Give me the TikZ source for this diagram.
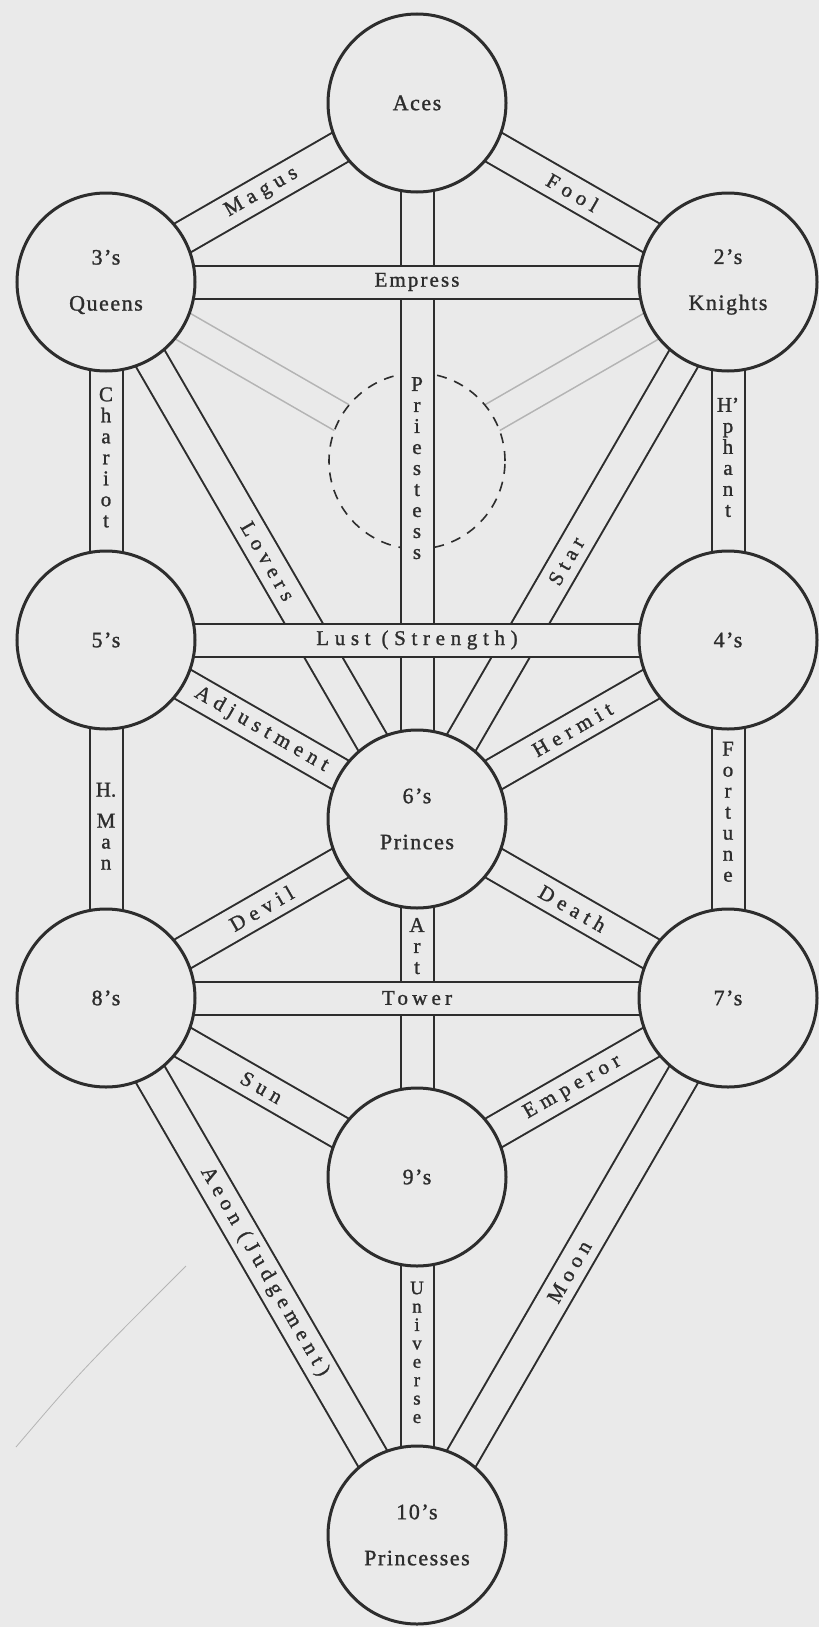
\documentclass[tikz,border=0pt]{standalone}
\usepackage{fontspec}
\setmainfont{Liberation Serif}
\newfontfamily\sephfont[LetterSpace=7,FakeBold=1.2]{Liberation Serif}
\newfontfamily\diagfont[LetterSpace=28,FakeBold=1.2]{Liberation Serif}
\newfontfamily\horfont[LetterSpace=20,FakeBold=1.2]{Liberation Serif}
\newfontfamily\lustfont[LetterSpace=27,FakeBold=1.2]{Liberation Serif}
\newfontfamily\empfont[LetterSpace=10,FakeBold=1.2]{Liberation Serif}
\newfontfamily\stackfont[FakeBold=1.2]{Liberation Serif}
\pgfdeclarelayer{paperlayer}
\pgfdeclarelayer{chanlayer}
\pgfsetlayers{paperlayer,chanlayer,main}
\definecolor{paper}{RGB}{234,234,234}
\definecolor{ink}{RGB}{45,45,45}
\definecolor{faintink}{RGB}{180,180,180}
\tikzset{
  sephira/.style={circle, draw=ink, line width=1.5pt, fill=paper, minimum size=89pt,
    inner sep=0pt, align=center, text=ink, font=\sephfont\fontsize{11}{23}\selectfont},
  daathcircle/.style={circle, draw=ink, line width=0.8pt, dash pattern=on 5pt off 4pt,
    fill=paper, minimum size=88pt, inner sep=0pt},
  channel/.style={draw=ink, line width=1pt, double=paper, double distance=15.5pt},
  faintchannel/.style={draw=faintink, line width=0.8pt, double=paper, double distance=14pt},
  dlab/.style={sloped, text=ink, inner sep=0pt, font=\diagfont\fontsize{10.5}{12}\selectfont},
  hlab/.style={text=ink, inner sep=0pt, font=\horfont\fontsize{10.5}{12}\selectfont},
  lustlab/.style={text=ink, inner sep=0pt, font=\lustfont\fontsize{10.5}{12}\selectfont},
  elab/.style={text=ink, inner sep=0pt, font=\empfont\fontsize{10.5}{12}\selectfont},
  vlab/.style={text=ink, inner sep=0pt, align=center, font=\stackfont\fontsize{10.5}{10.5}\selectfont},
  ulab/.style={text=ink, inner sep=0pt, align=center, font=\stackfont\fontsize{9.5}{9.2}\selectfont},
}
\begin{document}
\begin{tikzpicture}[x=0.5pt, y=-0.5pt]
\useasboundingbox (0,0) rectangle (819,1627);
\begin{pgfonlayer}{paperlayer}
  \fill[paper] (0,0) rectangle (819,1627);
  \draw[faintink, line width=0.4pt] (16,1447) .. controls (80,1372) .. (186,1266);
\end{pgfonlayer}

% Sephiroth
\node[sephira] (aces)    at (417,103)  {Aces};
\node[sephira] (queens)  at (106,282)  {3’s\\Queens};
\node[sephira] (knights) at (728,282)  {2’s\\Knights};
\node[sephira] (s5)      at (106,640)  {5’s};
\node[sephira] (s4)      at (728,640)  {4’s};
\node[sephira] (s6)      at (417,819)  {6’s\\Princes};
\node[sephira] (s8)      at (106,998)  {8’s};
\node[sephira] (s7)      at (728,998)  {7’s};
\node[sephira] (s9)      at (417,1177) {9’s};
\node[sephira] (s10)     at (417,1535) {10’s\\Princesses};

\begin{pgfonlayer}{chanlayer}
  \coordinate (dc) at (417,461);
  \draw[faintchannel] (queens.center) -- (dc);
  \draw[faintchannel] (knights.center) -- (dc);
  \node[daathcircle] (daath) at (dc) {};
  % Priestess
  \draw[channel] (aces.center) -- node[vlab, pos=0.51] {P\\r\\i\\e\\s\\t\\e\\s\\s} (s6.center);
  % Empress
  \draw[channel] (queens.center) -- node[elab] {Empress} (knights.center);
  % Magus, Fool
  \draw[channel] (queens.center) -- node[dlab] {Magus} (aces.center);
  \draw[channel] (aces.center) -- node[dlab] {Fool} (knights.center);
  % Chariot, H'phant
  \draw[channel] (queens.center) -- node[vlab, pos=0.49] {C\\h\\a\\r\\i\\o\\t} (s5.center);
  \draw[channel] (knights.center) -- node[vlab, pos=0.49] {H’\\p\\h\\a\\n\\t} (s4.center);
  % Lovers, Star
  \draw[channel] (queens.center) -- node[dlab, pos=0.52] {Lovers} (s6.center);
  \draw[channel] (s6.center) -- node[dlab, pos=0.48] {Star} (knights.center);
  % Lust
  \draw[channel] (s5.center) -- node[lustlab] {Lust (Strength)} (s4.center);
  % Adjustment, Hermit
  \draw[channel] (s5.center) -- node[dlab] {Adjustment} (s6.center);
  \draw[channel] (s6.center) -- node[dlab] {Hermit} (s4.center);
  % H. Man, Fortune
  \draw[channel] (s5.center) -- node[vlab, pos=0.52] {H.\\[5pt]M\\a\\n} (s8.center);
  \draw[channel] (s4.center) -- node[vlab, pos=0.48] {F\\o\\r\\t\\u\\n\\e} (s7.center);
  % Devil, Death
  \draw[channel] (s8.center) -- node[dlab] {Devil} (s6.center);
  \draw[channel] (s6.center) -- node[dlab] {Death} (s7.center);
  % Art
  \draw[channel] (s6.center) -- node[vlab, pos=0.355] {A\\r\\t} (s9.center);
  % Tower
  \draw[channel] (s8.center) -- node[hlab] {Tower} (s7.center);
  % Sun, Emperor
  \draw[channel] (s8.center) -- node[dlab] {Sun} (s9.center);
  \draw[channel] (s9.center) -- node[dlab] {Emperor} (s7.center);
  % Aeon, Moon
  \draw[channel] (s8.center) -- node[dlab, pos=0.51] {Aeon (Judgement)} (s10.center);
  \draw[channel] (s10.center) -- node[dlab, pos=0.49] {Moon} (s7.center);
  % Universe
  \draw[channel] (s9.center) -- node[ulab, pos=0.49] {U\\n\\i\\v\\e\\r\\s\\e} (s10.center);
\end{pgfonlayer}
\end{tikzpicture}
\end{document}
